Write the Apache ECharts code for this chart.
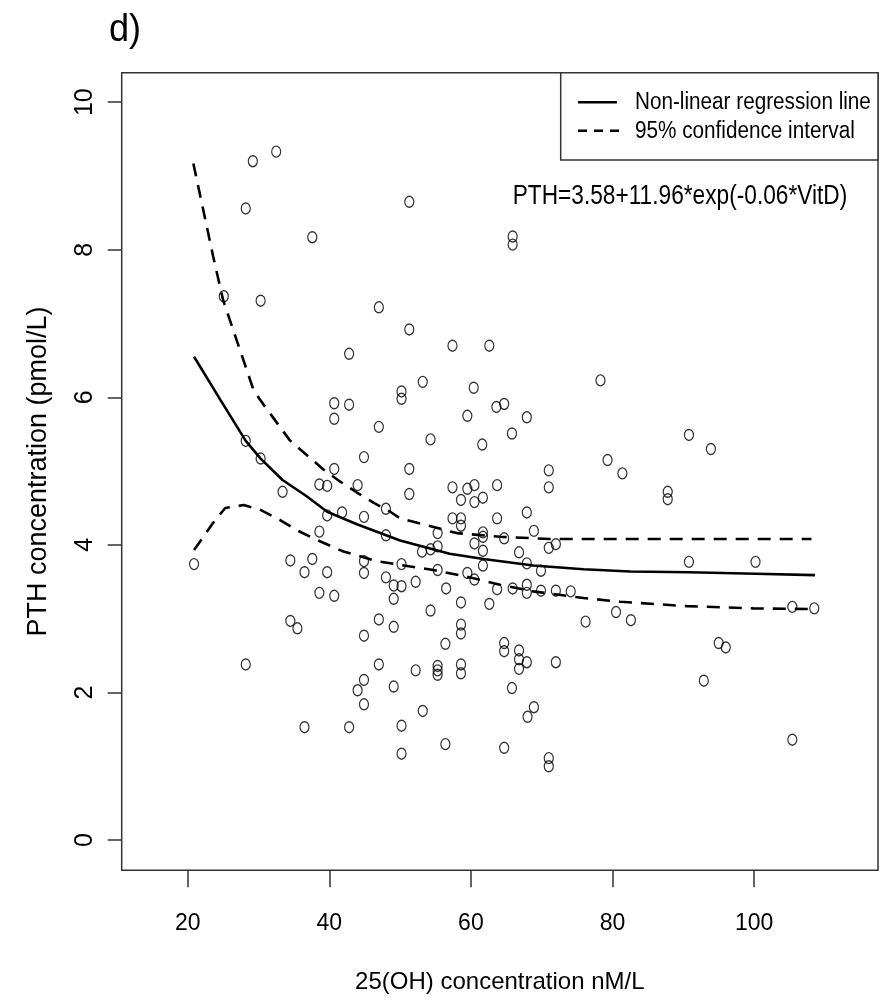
<!DOCTYPE html>
<html>
<head>
<meta charset="utf-8">
<title>PTH vs 25(OH)</title>
<script src="https://cdn.jsdelivr.net/npm/echarts@6.0.0/dist/echarts.min.js"></script>
<style>
  html, body { margin: 0; padding: 0; background: #fff; }
  #chart { width: 884px; height: 1005px; }
</style>
</head>
<body>
<div id="chart"></div>
<script>
// scatter: 25(OH) concentration vs PTH
var vitD = [32.5, 29.2, 28.2, 37.6, 25.1, 30.3, 47.0, 42.8,
  51.3, 65.9, 65.9, 51.3, 57.4, 62.6, 53.2, 60.4, 78.3, 50.2, 50.2,
  40.7, 42.8, 40.7, 47.0, 28.2, 30.3, 44.9, 40.7, 38.6, 39.7, 44.0, 33.4, 48.0, 41.8, 39.7, 44.9, 38.6, 48.0,
  20.9, 34.5, 37.6, 44.9, 36.5, 39.7, 44.9, 48.0, 49.1, 38.6, 40.7,
  63.6, 64.7, 59.5, 67.9, 54.3, 65.8, 61.6, 79.3, 81.4, 51.3, 71.0, 51.3, 57.4, 59.5, 60.5, 63.7, 71.0,
  58.6, 60.5, 61.7, 57.4, 58.6, 58.6, 63.7, 67.9, 55.3, 61.7, 61.7, 60.5, 64.7, 68.9, 71.0, 72.0,
  53.1, 54.3, 55.3, 61.7, 66.8, 50.2, 61.7, 67.9, 69.9, 55.3, 59.5, 60.5, 52.2, 56.5, 50.2, 63.7,
  65.9, 67.9, 67.9, 69.9, 72.0, 74.1,
  90.8, 93.9, 87.8, 87.8, 90.8, 100.2,
  49.1, 34.5, 35.5, 47.0, 49.1, 44.9, 28.2, 47.0, 49.1, 44.9, 44.0, 44.9, 36.5, 42.8, 50.2, 50.2,
  54.3, 58.6, 62.6, 58.6, 58.6, 56.4, 64.7, 64.7, 66.8, 66.8, 67.9, 66.8, 72.0, 52.2, 55.3, 55.3, 55.3,
  58.6, 58.6, 76.2, 80.5, 65.8, 68.9, 68.0, 53.2, 56.4, 64.7, 71.0, 71.0,
  82.6, 95.0, 96.0, 92.9, 105.4, 108.5, 105.4];
var pth = [9.33, 9.20, 8.56, 8.17, 7.37, 7.31, 7.22, 6.59,
  8.65, 8.18, 8.07, 6.92, 6.70, 6.70, 6.21, 6.13, 6.23, 6.08, 5.98,
  5.92, 5.90, 5.71, 5.60, 5.41, 5.17, 5.19, 5.03, 4.82, 4.80, 4.81, 4.72, 4.49, 4.44, 4.40, 4.38, 4.18, 4.13,
  3.74, 3.79, 3.81, 3.78, 3.63, 3.63, 3.62, 3.56, 3.45, 3.35, 3.31,
  5.87, 5.91, 5.75, 5.73, 5.43, 5.51, 5.36, 5.15, 4.97, 5.03, 5.01, 4.69, 4.78, 4.76, 4.81, 4.81, 4.78,
  4.61, 4.58, 4.64, 4.36, 4.36, 4.26, 4.36, 4.44, 4.16, 4.17, 4.11, 4.02, 4.09, 4.19, 3.96, 4.01,
  3.91, 3.94, 3.98, 3.92, 3.90, 3.74, 3.72, 3.75, 3.65, 3.66, 3.62, 3.53, 3.50, 3.41, 3.44, 3.40,
  3.41, 3.46, 3.35, 3.38, 3.38, 3.37,
  5.49, 5.30, 4.72, 4.62, 3.77, 3.77,
  3.27, 2.97, 2.87, 2.99, 2.89, 2.77, 2.38, 2.38, 2.08, 2.17, 2.03, 1.84, 1.53, 1.53, 1.55, 1.17,
  3.11, 3.22, 3.20, 2.92, 2.80, 2.66, 2.67, 2.56, 2.57, 2.45, 2.41, 2.32, 2.41, 2.30, 2.36, 2.30, 2.24,
  2.38, 2.26, 2.96, 3.09, 2.06, 1.80, 1.67, 1.75, 1.30, 1.25, 1.11, 1.00,
  2.98, 2.67, 2.61, 2.16, 3.16, 3.14, 1.36];

// regression line and confidence band
var fitX = [20.9, 24.6, 28.2, 30.3, 33.4, 36.8, 39.7, 43.9, 50.0, 57.0, 61.8, 68.8, 75.9, 82.5, 90.8, 100.2, 108.6];
var fitY = [6.55, 5.97, 5.41, 5.17, 4.88, 4.66, 4.45, 4.28, 4.06, 3.88, 3.81, 3.72, 3.67, 3.64, 3.63, 3.61, 3.59];
var upX = [20.8, 22.2, 23.6, 25.0, 26.9, 29.3, 30.2, 34.4, 39.2, 41.5, 43.9, 46.3, 48.6, 50.0, 58.0, 64.1, 71.2, 82.5, 108.1];
var upY = [9.17, 8.54, 7.91, 7.32, 6.78, 6.10, 5.97, 5.42, 5.02, 4.86, 4.71, 4.57, 4.45, 4.36, 4.16, 4.11, 4.08, 4.08, 4.08];
var loX = [20.9, 23.6, 25.3, 27.9, 30.2, 33.0, 35.4, 38.2, 42.0, 46.7, 50.0, 54.7, 59.4, 64.1, 68.8, 75.9, 81.1, 90.5, 99.9, 108.8];
var loY = [3.93, 4.30, 4.50, 4.54, 4.48, 4.34, 4.20, 4.07, 3.91, 3.78, 3.73, 3.66, 3.57, 3.46, 3.37, 3.28, 3.23, 3.17, 3.14, 3.13];

var xTicks = [20, 40, 60, 80, 100];
var yTicks = [0, 2, 4, 6, 8, 10];

var zip = function(a, b) {
  return a.map(function(v, i) { return [v, b[i]]; });
};

var sans = '"Liberation Sans", Arial, sans-serif';

var chart = echarts.init(document.getElementById('chart'));
chart.setOption({
  backgroundColor: '#fff',
  animation: false,
  grid: {
    left: 121.7, right: 6, top: 72.7, bottom: 134.7,
    show: true, borderColor: '#333', borderWidth: 1.5, backgroundColor: 'transparent'
  },
  xAxis: {
    type: 'value', min: 10.68, max: 117.5,
    name: '25(OH) concentration nM/L', nameLocation: 'middle', nameGap: 100,
    nameTextStyle: { fontFamily: sans, fontSize: 24, color: '#000' },
    axisLine: { show: false, onZero: false },
    splitLine: { show: false },
    axisTick: { show: true, customValues: xTicks, length: 17, lineStyle: { color: '#333', width: 1.5 } },
    axisLabel: { customValues: xTicks, margin: 42, fontFamily: sans, fontSize: 23, color: '#000' }
  },
  yAxis: {
    type: 'value', min: -0.41, max: 10.40,
    name: 'PTH concentration (pmol/L)', nameLocation: 'middle', nameGap: 70, nameRotate: 90,
    nameTextStyle: { fontFamily: sans, fontSize: 27, color: '#000' },
    axisLine: { show: false, onZero: false },
    splitLine: { show: false },
    axisTick: { show: true, customValues: yTicks, length: 14, lineStyle: { color: '#333', width: 1.5 } },
    axisLabel: { customValues: yTicks, rotate: 90, margin: 24, fontFamily: sans, fontSize: 25, color: '#000' }
  },
  series: [
    {
      type: 'scatter', data: zip(vitD, pth),
      symbol: 'circle', symbolSize: [9, 11],
      itemStyle: { color: 'rgba(0,0,0,0)', borderColor: '#000', borderWidth: 1.3 },
      z: 3
    },
    {
      type: 'line', data: zip(fitX, fitY), showSymbol: false, symbol: 'none',
      lineStyle: { color: '#000', width: 2.6 }, z: 2
    },
    {
      type: 'line', data: zip(upX, upY), showSymbol: false, symbol: 'none',
      lineStyle: { color: '#000', width: 2.6, type: [13, 9] }, z: 2
    },
    {
      type: 'line', data: zip(loX, loY), showSymbol: false, symbol: 'none',
      lineStyle: { color: '#000', width: 2.6, type: [13, 9] }, z: 2
    }
  ],
  graphic: [
    { type: 'text', x: 109, y: 12, scaleX: 0.95,
      style: { text: 'd)', fontFamily: sans, fontSize: 38, fill: '#000' } },
    // legend box
    { type: 'rect', shape: { x: 560.7, y: 72.7, width: 317.3, height: 87.3 },
      style: { fill: '#fff', stroke: '#333', lineWidth: 1.5 }, z: 10 },
    { type: 'line', shape: { x1: 578, y1: 102.3, x2: 617, y2: 102.3 },
      style: { stroke: '#000', lineWidth: 2.6 }, z: 11 },
    { type: 'line', shape: { x1: 578, y1: 130.7, x2: 620, y2: 130.7 },
      style: { stroke: '#000', lineWidth: 2.6, lineDash: [9, 7] }, z: 11 },
    { type: 'text', x: 635, y: 103, scaleX: 0.9, z: 11,
      style: { text: 'Non-linear regression line', fontFamily: sans, fontSize: 23, fill: '#000', verticalAlign: 'middle' } },
    { type: 'text', x: 635, y: 131.5, scaleX: 0.9, z: 11,
      style: { text: '95% confidence interval', fontFamily: sans, fontSize: 23, fill: '#000', verticalAlign: 'middle' } },
    { type: 'text', x: 512.7, y: 196.3, scaleX: 0.84, z: 11,
      style: { text: 'PTH=3.58+11.96*exp(-0.06*VitD)', fontFamily: sans, fontSize: 27, fill: '#000', verticalAlign: 'middle' } }
  ]
});
</script>
</body>
</html>
